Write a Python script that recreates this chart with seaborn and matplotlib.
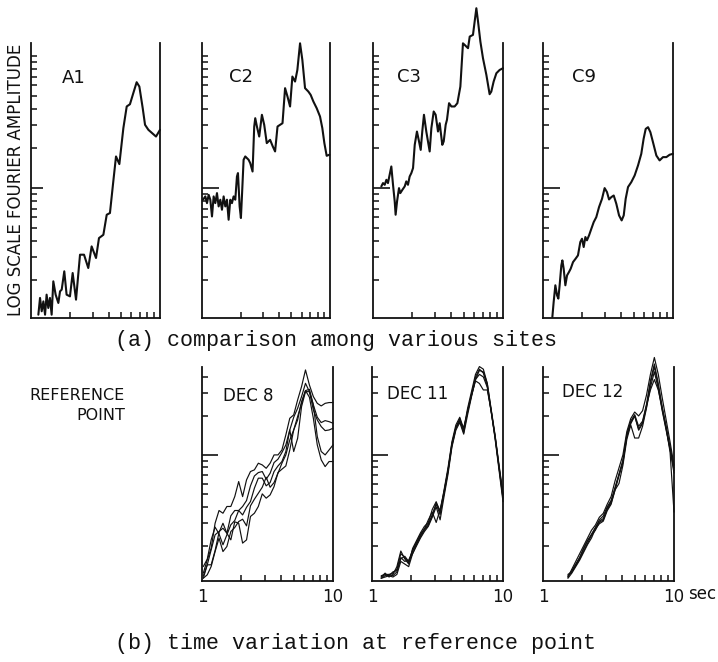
import numpy as np
import pandas as pd
import matplotlib
matplotlib.use("Agg")
import matplotlib.pyplot as plt
import seaborn as sns
from matplotlib.ticker import FixedLocator, NullFormatter, FixedFormatter

sns.set_theme(style="ticks")
plt.rcParams['font.family'] = ['DejaVu Sans']

# ---------------- data (log10 period [s], log10 relative amplitude) ----------------
A1_logT = [0.057,0.070,0.083,0.096,0.109,0.121,0.134,0.147,0.160,0.173,0.191,0.212,0.225,0.238,0.258,
           0.276,0.302,0.323,0.349,0.380,0.411,0.444,0.470,0.504,0.527,0.561,0.587,0.612,0.638,0.659,
           0.685,0.716,0.742,0.767,0.793,0.819,0.840,0.866,0.884,0.910,0.969,1.0]
A1_logA = [-0.96,-0.833,-0.934,-0.859,-0.96,-0.808,-0.909,-0.833,-0.96,-0.707,-0.808,-0.871,-0.783,-0.770,-0.631,
           -0.808,-0.821,-0.644,-0.846,-0.505,-0.505,-0.606,-0.442,-0.530,-0.379,-0.354,-0.202,-0.189,0.051,0.240,
           0.182,0.455,0.619,0.636,0.720,0.803,0.770,0.606,0.480,0.442,0.391,0.442]

C2_logT = [0.008,0.026,0.039,0.052,0.065,0.078,0.091,0.104,0.117,0.130,0.143,0.156,0.169,0.182,0.195,
           0.208,0.221,0.234,0.247,0.260,0.273,0.281,0.294,0.304,0.312,0.325,0.338,0.364,0.377,0.395,
           0.408,0.416,0.429,0.447,0.468,0.486,0.506,0.532,0.553,0.571,0.590,0.610,0.629,0.649,0.668,
           0.688,0.706,0.727,0.745,0.766,0.784,0.805,0.831,0.849,0.870,0.896,0.922,0.940,0.956,0.974,0.995]
C2_logA = [-0.088,-0.063,-0.114,-0.051,-0.088,-0.215,-0.063,-0.114,-0.038,-0.139,-0.088,-0.164,-0.063,-0.139,-0.088,
           -0.240,-0.088,-0.114,-0.063,-0.088,0.088,0.114,-0.139,-0.227,-0.063,0.215,0.240,0.215,0.189,0.126,
           0.467,0.530,0.467,0.391,0.556,0.480,0.341,0.366,0.316,0.278,0.467,0.480,0.492,0.758,0.694,
           0.619,0.846,0.808,0.896,1.098,0.972,0.758,0.732,0.707,0.657,0.606,0.543,0.455,0.341,0.245,0.253]

C3_logT = [0.064,0.077,0.090,0.103,0.115,0.128,0.141,0.154,0.167,0.174,0.185,0.200,0.210,0.226,0.244,
           0.256,0.269,0.282,0.295,0.308,0.321,0.338,0.354,0.367,0.379,0.392,0.410,0.436,0.449,0.467,
           0.482,0.500,0.513,0.533,0.544,0.559,0.569,0.585,0.603,0.628,0.649,0.672,0.692,0.705,0.731,
           0.744,0.769,0.782,0.795,0.808,0.826,0.846,0.872,0.897,0.910,0.928,0.949,0.974,1.0]
C3_logA = [0.013,0.038,0.025,0.063,0.038,0.101,0.164,0.025,-0.101,-0.202,-0.101,0.0,-0.038,-0.013,0.013,
           0.051,0.025,0.088,0.114,0.152,0.328,0.429,0.354,0.290,0.429,0.556,0.429,0.278,0.455,0.581,
           0.556,0.429,0.492,0.328,0.354,0.480,0.518,0.644,0.619,0.619,0.644,0.770,1.098,1.086,1.061,
           1.149,1.162,1.263,1.364,1.263,1.111,0.985,0.859,0.712,0.732,0.808,0.871,0.896,0.909]

C9_logT = [0.072,0.082,0.095,0.108,0.118,0.128,0.141,0.149,0.159,0.172,0.185,0.200,0.213,0.231,0.251,
           0.269,0.287,0.300,0.313,0.326,0.338,0.354,0.372,0.390,0.410,0.431,0.454,0.474,0.492,0.508,
           0.526,0.544,0.564,0.585,0.605,0.621,0.636,0.654,0.679,0.705,0.731,0.756,0.774,0.790,0.808,
           0.826,0.846,0.872,0.897,0.923,0.949,0.974,1.0]
C9_logA = [-0.977,-0.864,-0.737,-0.813,-0.838,-0.737,-0.586,-0.548,-0.611,-0.737,-0.662,-0.636,-0.611,-0.561,-0.535,
           -0.510,-0.409,-0.384,-0.447,-0.371,-0.396,-0.359,-0.308,-0.258,-0.220,-0.144,-0.081,0.0,-0.030,-0.086,
           -0.068,-0.056,-0.119,-0.207,-0.245,-0.207,-0.081,0.008,0.045,0.096,0.172,0.260,0.374,0.449,0.462,
           0.424,0.348,0.247,0.210,0.235,0.235,0.253,0.260]

DEC8_logT = [0.01,0.04,0.07,0.10,0.13,0.16,0.19,0.22,0.25,0.28,0.31,0.34,0.37,0.40,0.43,0.46,0.49,
             0.52,0.55,0.58,0.61,0.64,0.67,0.70,0.73,0.76,0.79,0.82,0.85,0.88,0.91,0.94,0.97,1.00]
DEC8_runs = [
    [-0.910,-0.808,-0.718,-0.526,-0.428,-0.449,-0.397,-0.397,-0.321,-0.205,-0.321,-0.192,-0.128,-0.115,-0.064,-0.077,-0.103,
     -0.064,0.0,0.0,0.038,0.154,0.282,0.308,0.423,0.526,0.654,0.538,0.449,0.397,0.377,0.397,0.403,0.403],
    [-0.931,-0.846,-0.731,-0.615,-0.590,-0.564,-0.603,-0.469,-0.428,-0.428,-0.397,-0.351,-0.238,-0.162,-0.136,-0.128,-0.187,
     -0.141,-0.059,-0.033,0.018,0.077,0.192,0.290,0.359,0.449,0.551,0.487,0.385,0.290,0.249,0.264,0.256,0.244],
    [-0.859,-0.803,-0.654,-0.556,-0.608,-0.692,-0.615,-0.538,-0.505,-0.428,-0.462,-0.403,-0.359,-0.256,-0.179,-0.179,-0.238,
     -0.213,-0.128,-0.085,-0.051,0.026,0.192,0.026,0.128,0.372,0.487,0.487,0.346,0.269,0.218,0.187,0.192,0.205],
    [-0.949,-0.923,-0.859,-0.744,-0.641,-0.744,-0.705,-0.590,-0.559,-0.513,-0.495,-0.546,-0.392,-0.341,-0.295,-0.249,-0.172,
     -0.249,-0.213,-0.141,-0.064,0.0,0.115,0.192,0.295,0.397,0.495,0.444,0.282,0.077,-0.038,-0.090,-0.051,-0.051],
    [-0.949,-0.846,-0.846,-0.736,-0.597,-0.526,-0.603,-0.654,-0.515,-0.526,-0.679,-0.654,-0.474,-0.449,-0.397,-0.300,-0.333,
     -0.308,-0.244,-0.136,-0.110,-0.085,0.038,0.192,0.269,0.410,0.495,0.505,0.385,0.141,0.026,0.0,0.038,0.077],
]

DEC11_logT = [0.07,0.10,0.13,0.16,0.19,0.22,0.25,0.28,0.31,0.34,0.37,0.40,0.43,0.46,0.49,0.52,
              0.55,0.58,0.61,0.64,0.67,0.70,0.73,0.76,0.79,0.82,0.85,0.88,0.91,0.94,0.97,1.00]
DEC11_runs = [
    [-0.94,-0.91,-0.94,-0.92,-0.86,-0.74,-0.80,-0.84,-0.72,-0.66,-0.60,-0.55,-0.52,-0.42,-0.36,-0.44,
     -0.27,-0.10,0.10,0.23,0.29,0.20,0.36,0.49,0.62,0.68,0.66,0.55,0.34,0.12,-0.12,-0.36],
    [-0.95,-0.93,-0.92,-0.93,-0.90,-0.80,-0.78,-0.82,-0.76,-0.70,-0.64,-0.59,-0.55,-0.48,-0.40,-0.50,
     -0.32,-0.15,0.06,0.19,0.25,0.16,0.31,0.45,0.58,0.65,0.64,0.55,0.35,0.15,-0.08,-0.30],
    [-0.93,-0.92,-0.93,-0.90,-0.89,-0.79,-0.82,-0.81,-0.74,-0.68,-0.62,-0.57,-0.50,-0.44,-0.52,-0.42,
     -0.28,-0.12,0.08,0.21,0.26,0.21,0.33,0.46,0.58,0.62,0.60,0.52,0.33,0.13,-0.10,-0.34],
    [-0.95,-0.94,-0.93,-0.94,-0.92,-0.82,-0.84,-0.86,-0.76,-0.69,-0.63,-0.58,-0.54,-0.47,-0.37,-0.43,
     -0.30,-0.13,0.07,0.20,0.27,0.17,0.34,0.47,0.60,0.66,0.63,0.53,0.33,0.14,-0.09,-0.31],
    [-0.94,-0.92,-0.92,-0.91,-0.88,-0.76,-0.79,-0.83,-0.73,-0.67,-0.61,-0.57,-0.53,-0.46,-0.38,-0.46,
     -0.29,-0.12,0.09,0.21,0.28,0.19,0.34,0.46,0.57,0.55,0.50,0.50,0.34,0.14,-0.10,-0.33],
]

DEC12_logT = [0.19,0.22,0.25,0.28,0.31,0.34,0.37,0.40,0.43,0.46,0.49,0.52,0.55,0.58,
              0.61,0.64,0.67,0.70,0.73,0.76,0.79,0.82,0.85,0.88,0.91,0.94,0.97,1.00]
DEC12_runs = [
    [-0.94,-0.88,-0.82,-0.76,-0.70,-0.64,-0.58,-0.54,-0.48,-0.45,-0.38,-0.32,-0.20,-0.10,
     0.00,0.18,0.28,0.33,0.30,0.34,0.46,0.62,0.75,0.62,0.44,0.27,0.10,-0.08],
    [-0.93,-0.90,-0.85,-0.80,-0.74,-0.68,-0.62,-0.58,-0.52,-0.50,-0.42,-0.37,-0.27,-0.16,
     -0.06,0.14,0.24,0.30,0.19,0.24,0.37,0.55,0.68,0.53,0.35,0.20,0.05,-0.12],
    [-0.95,-0.91,-0.86,-0.81,-0.75,-0.69,-0.64,-0.57,-0.53,-0.51,-0.43,-0.38,-0.27,-0.22,
     -0.08,0.12,0.23,0.13,0.13,0.22,0.36,0.52,0.64,0.51,0.34,0.19,0.04,-0.14],
    [-0.94,-0.89,-0.84,-0.79,-0.72,-0.66,-0.61,-0.56,-0.50,-0.47,-0.40,-0.35,-0.25,-0.15,
     -0.04,0.16,0.26,0.31,0.22,0.26,0.39,0.57,0.70,0.55,0.37,0.21,0.02,-0.44],
    [-0.92,-0.90,-0.85,-0.79,-0.72,-0.66,-0.62,-0.56,-0.51,-0.49,-0.41,-0.36,-0.26,-0.15,
     -0.05,0.15,0.25,0.30,0.20,0.25,0.38,0.50,0.58,0.50,0.36,0.22,0.06,-0.10],
]

top_labels = ["A1", "C2", "C3", "C9"]
bottom_labels = ["DEC 8", "DEC 11", "DEC 12"]
x_ticklabels = ["1", "10"]

# ---------------- figure ----------------
W, H = 718, 662
fig = plt.figure(figsize=(W / 100, H / 100), dpi=100)
fig.patch.set_facecolor("white")

def rect(x0, y0, x1, y1):
    return [x0 / W, 1 - y1 / H, (x1 - x0) / W, (y1 - y0) / H]

def ftext(x, y, s, **kw):
    fig.text(x / W, 1 - y / H, s, **kw)

INK = "#111111"
TOP_YLIM = (0.1035, 12.6)
BOT_YLIM = (0.107, 4.75)
minor_top = [0.2, 0.3, 0.4, 0.5, 0.6, 0.7, 0.8, 0.9, 2, 3, 4, 5, 6, 7, 8, 9, 10]
minor_bot = [0.2, 0.3, 0.4, 0.5, 0.6, 0.7, 0.8, 0.9, 2, 3, 4]

def style(ax, ylim, yminor, major_len, show_x=False):
    ax.set_xscale("log")
    ax.set_yscale("log")
    ax.set_xlim(1, 10)
    ax.set_ylim(*ylim)
    ax.set_facecolor("white")
    ax.grid(False)
    ax.spines["top"].set_visible(False)
    for s in ["left", "right", "bottom"]:
        ax.spines[s].set_linewidth(1.3)
        ax.spines[s].set_color(INK)
    ax.yaxis.set_major_locator(FixedLocator([1]))
    ax.yaxis.set_minor_locator(FixedLocator(yminor))
    ax.yaxis.set_major_formatter(NullFormatter())
    ax.yaxis.set_minor_formatter(NullFormatter())
    ax.xaxis.set_major_locator(FixedLocator([1, 10]))
    ax.xaxis.set_minor_locator(FixedLocator([2, 3, 4, 5, 6, 7, 8, 9]))
    ax.xaxis.set_minor_formatter(NullFormatter())
    if show_x:
        ax.xaxis.set_major_formatter(FixedFormatter(x_ticklabels))
    else:
        ax.xaxis.set_major_formatter(NullFormatter())
    ax.tick_params(axis="y", which="major", direction="in", length=major_len, width=1.2,
                   color=INK, left=True, right=False)
    ax.tick_params(axis="y", which="minor", direction="in", length=4.5, width=1.1,
                   color=INK, left=True, right=False)
    ax.tick_params(axis="x", which="major", length=0, pad=5, labelsize=12, labelcolor=INK)
    ax.tick_params(axis="x", which="minor", direction="in", length=4, width=1.1, color=INK)
    ax.set_xlabel("")
    ax.set_ylabel("")

# top row
top_rects = [rect(31, 43, 160, 318), rect(202, 43, 330, 318),
             rect(373, 43, 503, 318), rect(543, 43, 673, 318)]
top_data = [(A1_logT, A1_logA), (C2_logT, C2_logA), (C3_logT, C3_logA), (C9_logT, C9_logA)]
top_label_pos = [(62, 78), (229, 77), (397, 77), (572, 77)]
top_major_len = [8.5, 12, 12, 12]

for r, (lt, la), lab, pos, ml in zip(top_rects, top_data, top_labels, top_label_pos, top_major_len):
    ax = fig.add_axes(r)
    style(ax, TOP_YLIM, minor_top, ml)
    df = pd.DataFrame({"period": 10 ** np.array(lt), "amp": 10 ** np.array(la)})
    sns.lineplot(data=df, x="period", y="amp", ax=ax, color=INK, lw=1.5, sort=False,
                 estimator=None, legend=False)
    for ln in ax.lines:
        ln.set_clip_on(False)
    style(ax, TOP_YLIM, minor_top, ml)
    ftext(pos[0], pos[1], lab, fontsize=13, color=INK, ha="left", va="center")

# bottom row
bot_rects = [rect(202, 367, 333, 581), rect(372, 367, 503, 581), rect(543, 367, 674, 581)]
bot_data = [(DEC8_logT, DEC8_runs), (DEC11_logT, DEC11_runs), (DEC12_logT, DEC12_runs)]
bot_label_pos = [(223, 396), (387, 394), (562, 392)]

for r, (lt, runs), lab, pos in zip(bot_rects, bot_data, bottom_labels, bot_label_pos):
    ax = fig.add_axes(r)
    style(ax, BOT_YLIM, minor_bot, 11.5, show_x=True)
    frames = []
    for i, run in enumerate(runs):
        frames.append(pd.DataFrame({"period": 10 ** np.array(lt),
                                    "amp": 10 ** np.array(run), "run": i}))
    df = pd.concat(frames, ignore_index=True)
    sns.lineplot(data=df, x="period", y="amp", units="run", estimator=None, ax=ax,
                 color=INK, lw=0.85, sort=False, legend=False)
    for ln in ax.lines:
        ln.set_clip_on(False)
    style(ax, BOT_YLIM, minor_bot, 11.5, show_x=True)
    ftext(pos[0], pos[1], lab, fontsize=12, color=INK, ha="left", va="center")

# texts
ftext(16, 180, "LOG SCALE FOURIER AMPLITUDE", rotation=90, fontsize=12, color=INK,
      ha="center", va="center")
ftext(125, 395, "REFERENCE", fontsize=11.5, color=INK, ha="right", va="center")
ftext(125, 415, "POINT", fontsize=11.5, color=INK, ha="right", va="center")
ftext(688, 594, "sec", fontsize=12, color=INK, ha="left", va="center")
ftext(115, 340, "(a) comparison among various sites", fontsize=15.6,
      family=["Liberation Mono", "DejaVu Sans Mono"], color=INK, ha="left", va="center")
ftext(115, 643, "(b) time variation at reference point", fontsize=15.6,
      family=["Liberation Mono", "DejaVu Sans Mono"], color=INK, ha="left", va="center")

fig.savefig("out.png", dpi=100, facecolor="white")
